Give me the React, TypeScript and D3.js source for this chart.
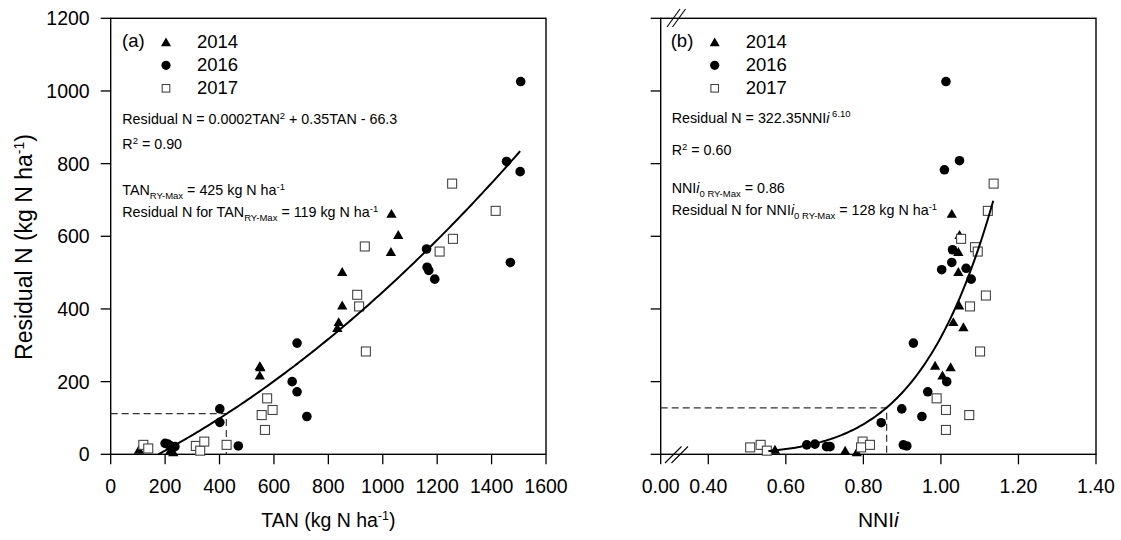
import React from "react";
import * as d3 from "d3";

// ---------- data ----------
const yTicks = [0, 200, 400, 600, 800, 1000, 1200];
const tanTicks = [0, 200, 400, 600, 800, 1000, 1200, 1400, 1600];
const nniTicks = [0.4, 0.6, 0.8, 1.0, 1.2, 1.4];
const nniTickLabels = ["0.40", "0.60", "0.80", "1.00", "1.20", "1.40"];
const years = ["2014", "2016", "2017"];

// Panel (a): TAN vs residual N
const tan2014 = [104, 218, 230, 548, 550, 548, 833, 838, 851, 851, 1030, 1032, 1057];
const resA2014 = [10, 7, 3, 240, 237, 214, 345, 361, 407, 499, 554, 659, 601];
const tan2016 = [1507, 1455, 1505, 1469, 1161, 1163, 1169, 1191, 685, 667, 685, 721, 401, 401, 469, 200, 210, 218, 228, 236];
const resA2016 = [1026, 806, 778, 528, 565, 515, 506, 482, 306, 200, 172, 104, 125, 88, 23, 30, 28, 24, 20, 21];
const tan2017 = [1255, 1415, 934, 1258, 1209, 906, 913, 938, 575, 595, 555, 567, 426, 313, 329, 344, 120, 138];
const resA2017 = [745, 670, 572, 593, 558, 439, 407, 283, 154, 122, 108, 67, 26, 23, 10, 35, 26, 16];

// Panel (b): NNIi vs residual N
const nni2014 = [0.572, 0.753, 0.783, 0.985, 1.025, 1.004, 1.032, 1.058, 1.047, 1.045, 1.045, 1.028, 1.048];
const resB2014 = [10, 7, 3, 241, 237, 214, 361, 347, 407, 499, 554, 659, 601];
const nni2016 = [1.013, 1.048, 1.009, 1.028, 1.03, 1.002, 1.065, 1.078, 0.929, 1.015, 0.966, 0.951, 0.899, 0.846, 0.903, 0.912, 0.654, 0.675, 0.705, 0.714];
const resB2016 = [1026, 808, 783, 528, 563, 508, 512, 482, 306, 200, 172, 104, 125, 87, 26, 23, 26, 28, 21, 21];
const nni2017 = [1.136, 1.121, 1.052, 1.088, 1.095, 1.116, 1.075, 1.101, 0.989, 1.013, 1.073, 1.013, 0.798, 0.817, 0.794, 0.508, 0.535, 0.551];
const resB2017 = [745, 670, 593, 570, 558, 437, 407, 283, 154, 122, 108, 67, 35, 26, 19, 19, 26, 10];

// fitted curves (as drawn)
const quadCoef = [0.0001697, 0.3422, -65.1]; // a, b, c
const quadRange = [175, 1505];
const powCoef = [322.35, 6.1];
const powRange = [0.555, 1.135];
// dashed reference lines
const refA = [425, 112];
const refB = [0.86, 128];

// ---------- layout ----------
const W = 1121;
const H = 540;
const FONT = "'Liberation Sans', Arial, Helvetica, sans-serif";
const top = 18.3;
const bottom = 454.3;
const aL = 110.7, aR = 546;
const bL = 660.7, bR = 1096;

const y = d3.scaleLinear().domain([0, 1200]).range([bottom, top]);
const xA = d3.scaleLinear().domain([0, 1600]).range([aL, aR]);
const xB = d3.scaleLinear().domain([0.4, 1.4]).range([708.3, bR]);

const tri = d3.symbol(d3.symbolTriangle, 46)();
const triSmall = d3.symbol(d3.symbolTriangle, 44)();

function Points({ xs, ys, xScale, kind }) {
  return (
    <g>
      {xs.map((v, i) => {
        const px = xScale(v);
        const py = y(ys[i]);
        if (kind === "tri")
          return <path key={i} d={tri} transform={`translate(${px},${py})`} fill="#000" />;
        if (kind === "circ")
          return <circle key={i} cx={px} cy={py} r={4.8} fill="#000" />;
        return (
          <rect key={i} x={px - 4.5} y={py - 4.5} width={9} height={9} fill="#fff" stroke="#444" strokeWidth={1.1} />
        );
      })}
    </g>
  );
}

function Frame({ left, right }) {
  return (
    <rect x={left} y={top} width={right - left} height={bottom - top} fill="none" stroke="#000" strokeWidth={1.4} />
  );
}

function YTicks({ left, labels }) {
  return (
    <g>
      {yTicks.map((t) => (
        <g key={t}>
          <line x1={left - 10} x2={left} y1={y(t)} y2={y(t)} stroke="#000" strokeWidth={1.3} />
          {labels && (
            <text x={left - 21} y={y(t)} dy="0.36em" textAnchor="end" fontSize={19.5} fontFamily={FONT}>
              {t}
            </text>
          )}
        </g>
      ))}
    </g>
  );
}

function Legend({ x0, tag }) {
  const rows = [42.3, 65.3, 88.3];
  return (
    <g fontFamily={FONT}>
      <text x={x0} y={47.3} fontSize={18.5}>{tag}</text>
      <path d={triSmall} transform={`translate(${x0 + 44},${rows[0] + 1})`} fill="#000" />
      <circle cx={x0 + 44} cy={rows[1]} r={4.6} fill="#000" />
      <rect x={x0 + 40.2} y={rows[2] - 3.8} width={7.6} height={7.6} fill="#fff" stroke="#444" strokeWidth={1.1} />
      {years.map((yr, i) => (
        <text key={yr} x={x0 + 75} y={rows[i] + 5.2} fontSize={18.5}>{yr}</text>
      ))}
    </g>
  );
}

export default function App() {
  const quadLine = d3
    .line()
    .x((d) => xA(d[0]))
    .y((d) => y(d[1]));
  const qPts = d3.range(quadRange[0], quadRange[1] + 1, 10).map((t) => [
    t,
    quadCoef[0] * t * t + quadCoef[1] * t + quadCoef[2],
  ]);
  const pPts = d3.range(powRange[0], powRange[1] + 0.0001, 0.005).map((t) => [
    t,
    powCoef[0] * Math.pow(t, powCoef[1]),
  ]);
  const powLine = d3
    .line()
    .x((d) => xB(d[0]))
    .y((d) => y(d[1]));

  const annA = 14.3;
  const sub = 9.5;
  return (
    <svg width={W} height={H} style={{ position: "absolute", left: 0, top: 0, background: "#fff" }}>
      <rect width={W} height={H} fill="#fff" />

      {/* ---------- Panel (a) ---------- */}
      <Frame left={aL} right={aR} />
      <YTicks left={aL} labels={true} />
      {tanTicks.map((t) => (
        <g key={t}>
          <line x1={xA(t)} x2={xA(t)} y1={bottom} y2={bottom + 10} stroke="#000" strokeWidth={1.3} />
          <text x={xA(t)} y={493} textAnchor="middle" fontSize={19.5} fontFamily={FONT}>{t}</text>
        </g>
      ))}
      <path
        d={`M${aL},${y(refA[1])}H${xA(refA[0])}V${bottom}`}
        fill="none"
        stroke="#333"
        strokeWidth={1.2}
        strokeDasharray="7,4"
      />
      <Points xs={tan2014} ys={resA2014} xScale={xA} kind="tri" />
      <Points xs={tan2016} ys={resA2016} xScale={xA} kind="circ" />
      <Points xs={tan2017} ys={resA2017} xScale={xA} kind="sq" />
      <path d={quadLine(qPts)} fill="none" stroke="#000" strokeWidth={2} />
      <Legend x0={122} tag="(a)" />
      <g fontFamily={FONT} fontSize={annA}>
        <text x={122.3} y={124.3}>
          Residual N = 0.0002TAN<tspan dy={-5} fontSize={sub}>2</tspan>
          <tspan dy={5}> + 0.35TAN - 66.3</tspan>
        </text>
        <text x={122.3} y={149.3}>
          R<tspan dy={-5} fontSize={sub}>2</tspan><tspan dy={5}> = 0.90</tspan>
        </text>
        <text x={122.3} y={195}>
          TAN<tspan dy={4} fontSize={sub}>RY-Max</tspan>
          <tspan dy={-4}> = 425 kg N ha</tspan>
          <tspan dy={-5} fontSize={sub}>-1</tspan>
        </text>
        <text x={122.3} y={216.7}>
          Residual N for TAN<tspan dy={4} fontSize={sub}>RY-Max</tspan>
          <tspan dy={-4}> = 119 kg N ha</tspan>
          <tspan dy={-5} fontSize={sub}>-1</tspan>
        </text>
      </g>
      <text
        transform={`translate(32,247) rotate(-90)`}
        textAnchor="middle"
        fontSize={23}
        fontFamily={FONT}
      >
        Residual N (kg N ha<tspan dy={-8} fontSize={14}>-1</tspan><tspan dy={8}>)</tspan>
      </text>
      <text x={(aL + aR) / 2} y={527} textAnchor="middle" fontSize={19.5} fontFamily={FONT}>
        TAN (kg N ha<tspan dy={-7} fontSize={12.5}>-1</tspan><tspan dy={7}>)</tspan>
      </text>

      {/* ---------- Panel (b) ---------- */}
      <Frame left={bL} right={bR} />
      <YTicks left={bL} labels={false} />
      <line x1={bL} x2={bL} y1={bottom} y2={bottom + 10} stroke="#000" strokeWidth={1.3} />
      <text x={bL} y={493} textAnchor="middle" fontSize={19.5} fontFamily={FONT}>0.00</text>
      {nniTicks.map((t, i) => (
        <g key={t}>
          <line x1={xB(t)} x2={xB(t)} y1={bottom} y2={bottom + 10} stroke="#000" strokeWidth={1.3} />
          <text x={xB(t)} y={493} textAnchor="middle" fontSize={19.5} fontFamily={FONT}>{nniTickLabels[i]}</text>
        </g>
      ))}
      {/* axis breaks */}
      <g stroke="#000" strokeWidth={1.1}>
        <line x1={667} y1={27} x2={680} y2={9} />
        <line x1={672.5} y1={27} x2={685.5} y2={9} />
        <line x1={665} y1={463} x2={681.5} y2={446.5} />
        <line x1={671.5} y1={463} x2={688} y2={446.5} />
      </g>
      <path
        d={`M${bL},${y(refB[1])}H${xB(refB[0])}V${bottom}`}
        fill="none"
        stroke="#333"
        strokeWidth={1.2}
        strokeDasharray="7,4"
      />
      <Points xs={nni2014} ys={resB2014} xScale={xB} kind="tri" />
      <Points xs={nni2016} ys={resB2016} xScale={xB} kind="circ" />
      <Points xs={nni2017} ys={resB2017} xScale={xB} kind="sq" />
      <path d={powLine(pPts)} fill="none" stroke="#000" strokeWidth={2} />
      <Legend x0={670.7} tag="(b)" />
      <g fontFamily={FONT} fontSize={annA}>
        <text x={671.7} y={122.7}>
          Residual N = 322.35NNI<tspan fontStyle="italic">i</tspan>
          <tspan dy={-6} fontSize={sub}> 6.10</tspan>
        </text>
        <text x={671.7} y={155}>
          R<tspan dy={-5} fontSize={sub}>2</tspan><tspan dy={5}> = 0.60</tspan>
        </text>
        <text x={671.7} y={193.3}>
          NNI<tspan fontStyle="italic">i</tspan>
          <tspan dy={4} fontSize={sub}>0 RY-Max</tspan>
          <tspan dy={-4}> = 0.86</tspan>
        </text>
        <text x={671.7} y={215}>
          Residual N for NNI<tspan fontStyle="italic">i</tspan>
          <tspan dy={4} fontSize={sub}>0 RY-Max</tspan>
          <tspan dy={-4}> = 128 kg N ha</tspan>
          <tspan dy={-5} fontSize={sub}>-1</tspan>
        </text>
      </g>
      <text x={(bL + bR) / 2} y={527} textAnchor="middle" fontSize={21} fontFamily={FONT}>
        NNI<tspan fontStyle="italic">i</tspan>
      </text>
    </svg>
  );
}
